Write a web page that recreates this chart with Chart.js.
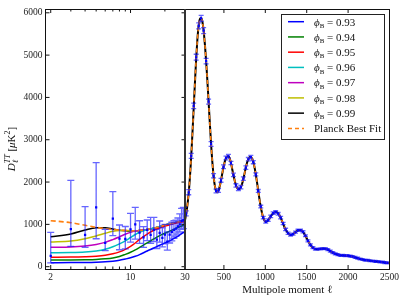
<!DOCTYPE html>
<html>
<head>
<meta charset="utf-8">
<script src="https://cdn.jsdelivr.net/npm/chart.js@4.4.1/dist/chart.umd.min.js"></script>
<style>
  html, body { margin: 0; padding: 0; background: #fff; }
</style>
</head>
<body>
<canvas id="cmbChart" width="407" height="305"></canvas>
<script>
// low multipoles (log panel)
const lowEll = [2, 3, 4, 5, 6, 7, 8, 9, 10, 11, 12, 14, 16, 18, 20, 22, 25, 28, 30];
const phi093 = [94, 96, 100, 106, 115, 130, 150, 180, 210, 245, 285, 370, 440, 505, 560, 610, 690, 780, 830];
const phi094 = [158, 160, 165, 172, 185, 205, 240, 290, 340, 395, 455, 560, 655, 735, 790, 840, 905, 960, 985];
const phi095 = [222, 226, 235, 248, 270, 305, 350, 410, 480, 560, 645, 770, 860, 915, 960, 990, 1030, 1055, 1065];
const phi096 = [331, 335, 347, 370, 410, 470, 540, 610, 690, 760, 815, 875, 912, 948, 984, 1010, 1045, 1080, 1100];
const phi097 = [458, 465, 489, 525, 575, 640, 705, 765, 810, 840, 858, 879, 910, 948, 984, 1010, 1046, 1080, 1100];
const phi098 = [583, 607, 662, 725, 788, 835, 855, 855, 850, 851, 857, 879, 909, 947, 984, 1010, 1046, 1080, 1100];
const phi099 = [709, 772, 867, 922, 920, 890, 862, 850, 845, 848, 856, 879, 909, 947, 984, 1010, 1046, 1080, 1100];
const planckLow = [1087, 1040, 978, 930, 898, 880, 867, 857, 850, 850, 855, 878, 908, 946, 983, 1010, 1046, 1080, 1100];

const dataLowEll = [2, 3, 4, 5, 6, 7, 8, 9, 10, 11, 12, 13, 14, 15, 16, 17, 18, 19, 20, 21, 22, 23, 24, 25, 26, 27, 28, 29];
const dataLowD  = [255, 890, 749, 1402, 560, 1135, 665, 655, 883, 1000, 803, 694, 867, 749, 867, 640, 800, 680, 760, 590, 760, 820, 870, 900, 950, 1000, 1080, 1100];
const dataLowLo = [90, 480, 455, 660, 380, 735, 400, 420, 580, 650, 552, 458, 614, 552, 590, 430, 580, 470, 540, 390, 560, 610, 670, 720, 770, 820, 880, 900];
const dataLowHi = [810, 2040, 1418, 2457, 883, 1772, 985, 950, 1261, 1400, 1085, 945, 1103, 1166, 1166, 880, 1080, 920, 1000, 820, 1000, 1050, 1090, 1100, 1150, 1250, 1380, 1400];

// high multipoles (linear panel)
const highEll = [30, 40, 50, 60, 70, 80, 90, 100, 110, 120, 130, 140, 150, 160, 170, 180, 190, 200, 210, 220,
  230, 240, 250, 260, 270, 280, 290, 300, 310, 320, 330, 340, 350, 360, 370, 380, 390, 400, 410, 420,
  430, 440, 460, 480, 500, 520, 540, 560, 580, 600, 620, 640, 660, 680, 700, 720, 740, 760, 780, 800,
  820, 840, 860, 880, 900, 920, 940, 960, 980, 1000, 1020, 1040, 1060, 1080, 1100, 1120, 1140, 1160, 1180, 1200,
  1220, 1240, 1260, 1280, 1300, 1320, 1340, 1360, 1380, 1400, 1420, 1440, 1460, 1480, 1500, 1520, 1540, 1560, 1580, 1600,
  1620, 1640, 1660, 1680, 1700, 1720, 1740, 1760, 1780, 1800, 1820, 1840, 1860, 1880, 1900, 1920, 1940, 1960, 1980, 2000,
  2020, 2040, 2060, 2080, 2100, 2120, 2140, 2160, 2180, 2200, 2250, 2300, 2350, 2400, 2450, 2500];
const highD = [1100, 1200, 1320, 1470, 1650, 1870, 2130, 2440, 2790, 3160, 3550, 3950, 4350, 4730, 5080, 5380, 5610, 5770, 5850, 5880,
  5860, 5790, 5660, 5480, 5260, 5000, 4710, 4400, 4070, 3730, 3390, 3060, 2750, 2480, 2250, 2060, 1920, 1820, 1770, 1760,
  1780, 1830, 1990, 2200, 2400, 2540, 2610, 2600, 2490, 2310, 2120, 1960, 1860, 1830, 1860, 1960, 2120, 2300, 2460, 2565,
  2600, 2560, 2440, 2240, 1990, 1720, 1470, 1270, 1130, 1070, 1070, 1110, 1170, 1230, 1270, 1290, 1285, 1250, 1180, 1090,
  990, 900, 830, 780, 755, 755, 775, 810, 840, 860, 865, 850, 810, 745, 670, 595, 530, 475, 440, 420,
  412, 412, 418, 424, 427, 425, 415, 398, 375, 350, 327, 307, 292, 280, 272, 267, 264, 262, 260, 257,
  252, 245, 235, 223, 210, 197, 186, 176, 167, 160, 145, 132, 121, 110, 97, 85];

const binEll = [45, 75, 105, 135, 165, 195, 225, 255, 285, 315, 345, 375, 405, 435, 465, 495, 525, 555, 585, 615,
  645, 675, 705, 735, 765, 795, 825, 855, 885, 915, 945, 975, 1005, 1035, 1065, 1095, 1125, 1155, 1185, 1215,
  1245, 1275, 1305, 1335, 1365, 1395, 1425, 1455, 1485, 1515, 1545, 1575, 1605, 1635, 1665, 1695, 1725, 1755, 1785, 1815,
  1845, 1875, 1905, 1935, 1965, 1995, 2025, 2055, 2085, 2115, 2145, 2175, 2205, 2235, 2265, 2295, 2325, 2355, 2385, 2415,
  2445, 2475];
const binD = [1260, 1760, 2620, 3800, 4950, 5690, 5870, 5580, 4860, 3900, 2900, 2150, 1790, 1800, 2040, 2360, 2570, 2610, 2450, 2170,
  1920, 1840, 1880, 2080, 2340, 2540, 2590, 2470, 2180, 1790, 1420, 1160, 1060, 1100, 1190, 1265, 1295, 1250, 1160, 1020,
  880, 790, 750, 770, 815, 860, 860, 825, 730, 610, 515, 450, 415, 412, 422, 425, 425, 402, 368, 332,
  302, 285, 268, 266, 260, 260, 248, 240, 218, 202, 182, 170, 156, 152, 140, 134, 125, 122, 112, 108,
  96, 90];
const binErr = [60, 60, 60, 65, 70, 70, 70, 70, 65, 60, 55, 50, 45, 45, 45, 45, 45, 45, 40, 40,
  40, 40, 40, 40, 40, 40, 40, 38, 36, 34, 32, 30, 30, 30, 30, 30, 30, 30, 28, 28,
  28, 26, 26, 24, 24, 24, 24, 24, 22, 22, 22, 22, 22, 22, 22, 22, 22, 22, 22, 22,
  22, 22, 22, 22, 22, 22, 22, 22, 22, 22, 22, 22, 22, 22, 22, 22, 22, 22, 22, 22,
  22, 22];

const phiLabels = ['0.93', '0.94', '0.95', '0.96', '0.97', '0.98', '0.99'];
const phiColors = ['#0000ff', '#008000', '#ff0000', '#00bfbf', '#bf00bf', '#bfbf00', '#000000'];
const planckColor = '#ff7f0e';
const lowTicks = [2, 3, 4, 5, 6, 7, 8, 9, 10, 20, 30];
const lowTickLabels = [2, 10, 30];
const highTicks = [500, 1000, 1500, 2000, 2500];
const yTicks = [0, 1000, 2000, 3000, 4000, 5000, 6000];

const serif = '"Liberation Serif", "DejaVu Serif", serif';

function pts(xs, ys) {
    return xs.map((x, i) => ({ x: x, y: ys[i] }));
}

const datasets = [];
[phi093, phi094, phi095, phi096, phi097, phi098, phi099].forEach((vals, i) => {
    datasets.push({
        label: 'phi ' + phiLabels[i],
        data: pts(lowEll, vals),
        xAxisID: 'xl', yAxisID: 'y',
        borderColor: phiColors[i], borderWidth: 1.5,
        pointRadius: 0, cubicInterpolationMode: 'monotone',
        order: 3
    });
});
datasets.push({
    label: 'Planck low', data: pts(lowEll, planckLow),
    xAxisID: 'xl', yAxisID: 'y',
    borderColor: planckColor, borderWidth: 1.6, borderDash: [5, 3],
    pointRadius: 0, cubicInterpolationMode: 'monotone', order: 2
});
datasets.push({
    label: 'phi 0.99 high', data: pts(highEll, highD),
    xAxisID: 'xr', yAxisID: 'y',
    borderColor: '#000', borderWidth: 2,
    pointRadius: 0, cubicInterpolationMode: 'monotone', order: 3
});
datasets.push({
    label: 'Planck high', data: pts(highEll, highD),
    xAxisID: 'xr', yAxisID: 'y',
    borderColor: planckColor, borderWidth: 1.5, borderDash: [4, 3],
    pointRadius: 0, cubicInterpolationMode: 'monotone', order: 2
});
datasets.push({
    label: 'data low', data: pts(dataLowEll, dataLowD),
    errLo: dataLowLo, errHi: dataLowHi, capW: 3.5,
    xAxisID: 'xl', yAxisID: 'y', showLine: false,
    pointStyle: 'rect', pointRadius: 1.6, backgroundColor: '#0000ff', borderWidth: 0,
    order: 0
});
datasets.push({
    label: 'data high', data: pts(binEll, binD),
    errLo: binD.map((v, i) => v - binErr[i]), errHi: binD.map((v, i) => v + binErr[i]), capW: 2.5,
    xAxisID: 'xr', yAxisID: 'y', showLine: false,
    pointStyle: 'rect', pointRadius: 1.5, backgroundColor: '#0000ff', borderWidth: 0,
    order: 0
});

// error bars drawn right before their point dataset
const errorBars = {
    id: 'errorBars',
    beforeDatasetDraw(chart, args) {
        const ds = chart.data.datasets[args.index];
        if (!ds.errLo) return;
        const { ctx } = chart;
        const xs = args.meta.xScale, ys = args.meta.yScale;
        ctx.save();
        ctx.strokeStyle = 'rgba(20,20,255,0.65)';
        ctx.lineWidth = 1.3;
        ctx.beginPath();
        ds.data.forEach((p, i) => {
            const px = xs.getPixelForValue(p.x);
            const t = ys.getPixelForValue(ds.errHi[i]);
            const b = ys.getPixelForValue(ds.errLo[i]);
            ctx.moveTo(px, t); ctx.lineTo(px, b);
            ctx.moveTo(px - ds.capW, t); ctx.lineTo(px + ds.capW, t);
            ctx.moveTo(px - ds.capW, b); ctx.lineTo(px + ds.capW, b);
        });
        ctx.stroke();
        ctx.restore();
    }
};

// frame, inward ticks, y title and legend
const decor = {
    id: 'decor',
    afterDraw(chart) {
        const { ctx, chartArea: a } = chart;
        const xl = chart.scales.xl, xr = chart.scales.xr, y = chart.scales.y;
        ctx.save();
        ctx.strokeStyle = '#111';
        ctx.lineWidth = 1;
        ctx.beginPath();
        lowTicks.forEach(v => {
            const px = xl.getPixelForValue(v);
            const len = lowTickLabels.includes(v) ? 4 : 2.5;
            ctx.moveTo(px, a.bottom); ctx.lineTo(px, a.bottom - len);
            ctx.moveTo(px, a.top); ctx.lineTo(px, a.top + len);
        });
        highTicks.forEach(v => {
            const px = xr.getPixelForValue(v);
            ctx.moveTo(px, a.bottom); ctx.lineTo(px, a.bottom - 4);
            ctx.moveTo(px, a.top); ctx.lineTo(px, a.top + 4);
        });
        yTicks.forEach(v => {
            const py = y.getPixelForValue(v);
            ctx.moveTo(a.left, py); ctx.lineTo(a.left + 4, py);
            ctx.moveTo(xl.right, py); ctx.lineTo(xl.right - 3.5, py);
        });
        ctx.stroke();
        ctx.strokeRect(a.left, a.top + 0.5, a.right - a.left, a.bottom - a.top);
        ctx.lineWidth = 2;
        ctx.strokeStyle = '#333';
        ctx.beginPath();
        ctx.moveTo(xl.right, a.top); ctx.lineTo(xl.right, a.bottom);
        ctx.stroke();

        // y axis title  D_l^TT [muK^2]
        ctx.fillStyle = '#111';
        ctx.textBaseline = 'alphabetic';
        const big = '11px ' + serif, bigI = 'italic 11px ' + serif;
        const small = '8px ' + serif, smallI = 'italic 8px ' + serif;
        const pieces = [
            { t: 'D', f: bigI, dy: 0 },
            { t: 'ℓ', f: smallI, dy: 2.5, sub: true },
            { t: 'TT', f: smallI, dy: -5 },
            { t: ' [', f: big, dy: 0 },
            { t: 'μ', f: bigI, dy: 0 },
            { t: 'K', f: big, dy: 0 },
            { t: '2', f: small, dy: -5 },
            { t: ']', f: big, dy: 0 }
        ];
        const widths = pieces.map(p => { ctx.font = p.f; return ctx.measureText(p.t).width; });
        let total = 0;
        pieces.forEach((p, i) => { if (!p.sub) total += (i === 2 ? Math.max(widths[1], widths[2]) : widths[i]); });
        ctx.save();
        ctx.translate(15, 149);
        ctx.rotate(-Math.PI / 2);
        let cx = -total / 2;
        pieces.forEach((p, i) => {
            ctx.font = p.f;
            if (p.sub) { ctx.fillText(p.t, cx, p.dy); return; }
            ctx.fillText(p.t, cx, p.dy);
            cx += (i === 2 ? Math.max(widths[1], widths[2]) : widths[i]);
        });
        ctx.restore();

        // legend
        const lx = 281.5, ly = 14.5, lw = 103, lh = 125;
        ctx.fillStyle = '#fff';
        ctx.fillRect(lx, ly, lw, lh);
        ctx.strokeStyle = '#222';
        ctx.lineWidth = 1;
        ctx.strokeRect(lx, ly, lw, lh);
        const rows = phiLabels.length + 1;
        for (let i = 0; i < rows; i++) {
            const ry = 21.7 + i * 15.24;
            ctx.beginPath();
            ctx.strokeStyle = i < phiLabels.length ? phiColors[i] : planckColor;
            ctx.lineWidth = 1.5;
            ctx.setLineDash(i < phiLabels.length ? [] : [4, 3]);
            ctx.moveTo(288, ry); ctx.lineTo(304, ry);
            ctx.stroke();
            ctx.setLineDash([]);
            ctx.fillStyle = '#111';
            const tx = 314, ty = ry + 3.8;
            if (i < phiLabels.length) {
                ctx.font = bigI;
                ctx.fillText('ϕ', tx, ty);
                const w1 = ctx.measureText('ϕ').width;
                ctx.font = '7px ' + serif;
                ctx.fillText('B', tx + w1, ty + 2.5);
                const w2 = ctx.measureText('B').width;
                ctx.font = big;
                ctx.fillText(' = ' + phiLabels[i], tx + w1 + w2, ty);
            } else {
                ctx.font = big;
                ctx.fillText('Planck Best Fit', tx, ty);
            }
        }
        ctx.restore();
    }
};

const tickFont = { family: serif, size: 9.5 };

new Chart(document.getElementById('cmbChart').getContext('2d'), {
    type: 'line',
    data: { datasets: datasets },
    plugins: [errorBars, decor],
    options: {
        responsive: false,
        animation: false,
        devicePixelRatio: 1,
        layout: { padding: { top: 9, right: 17.5, bottom: 0, left: 0 } },
        plugins: { legend: { display: false }, tooltip: { enabled: false } },
        scales: {
            xl: {
                type: 'logarithmic', position: 'bottom', stack: 'x', stackWeight: 139.5,
                min: 1.8, max: 30,
                grid: { display: false, drawTicks: false }, border: { display: false },
                afterBuildTicks: s => { s.ticks = lowTicks.map(v => ({ value: v })); },
                ticks: {
                    autoSkip: false, maxRotation: 0, padding: 3, font: tickFont, color: '#222',
                    callback: v => lowTickLabels.includes(v) ? String(v) : ''
                },
                afterFit: s => { s.height = 36; }
            },
            xr: {
                type: 'linear', position: 'bottom', stack: 'x', stackWeight: 204.5,
                min: 30, max: 2500,
                grid: { display: false, drawTicks: false }, border: { display: false },
                afterBuildTicks: s => { s.ticks = highTicks.map(v => ({ value: v })); },
                ticks: {
                    autoSkip: false, maxRotation: 0, padding: 3, font: tickFont, color: '#222',
                    callback: v => String(v)
                },
                title: {
                    display: true, text: 'Multipole moment ℓ', color: '#111',
                    font: { family: serif, size: 11 }, padding: { top: 0, bottom: 8 }
                },
                afterFit: s => { s.height = 36; }
            },
            y: {
                type: 'linear', position: 'left', min: -55, max: 6090,
                grid: { display: false, drawTicks: false }, border: { display: false },
                afterBuildTicks: s => { s.ticks = yTicks.map(v => ({ value: v })); },
                ticks: { padding: 3, font: tickFont, color: '#222', callback: v => String(v) },
                afterFit: s => { s.width = 45.5; }
            }
        }
    }
});
</script>
</body>
</html>
